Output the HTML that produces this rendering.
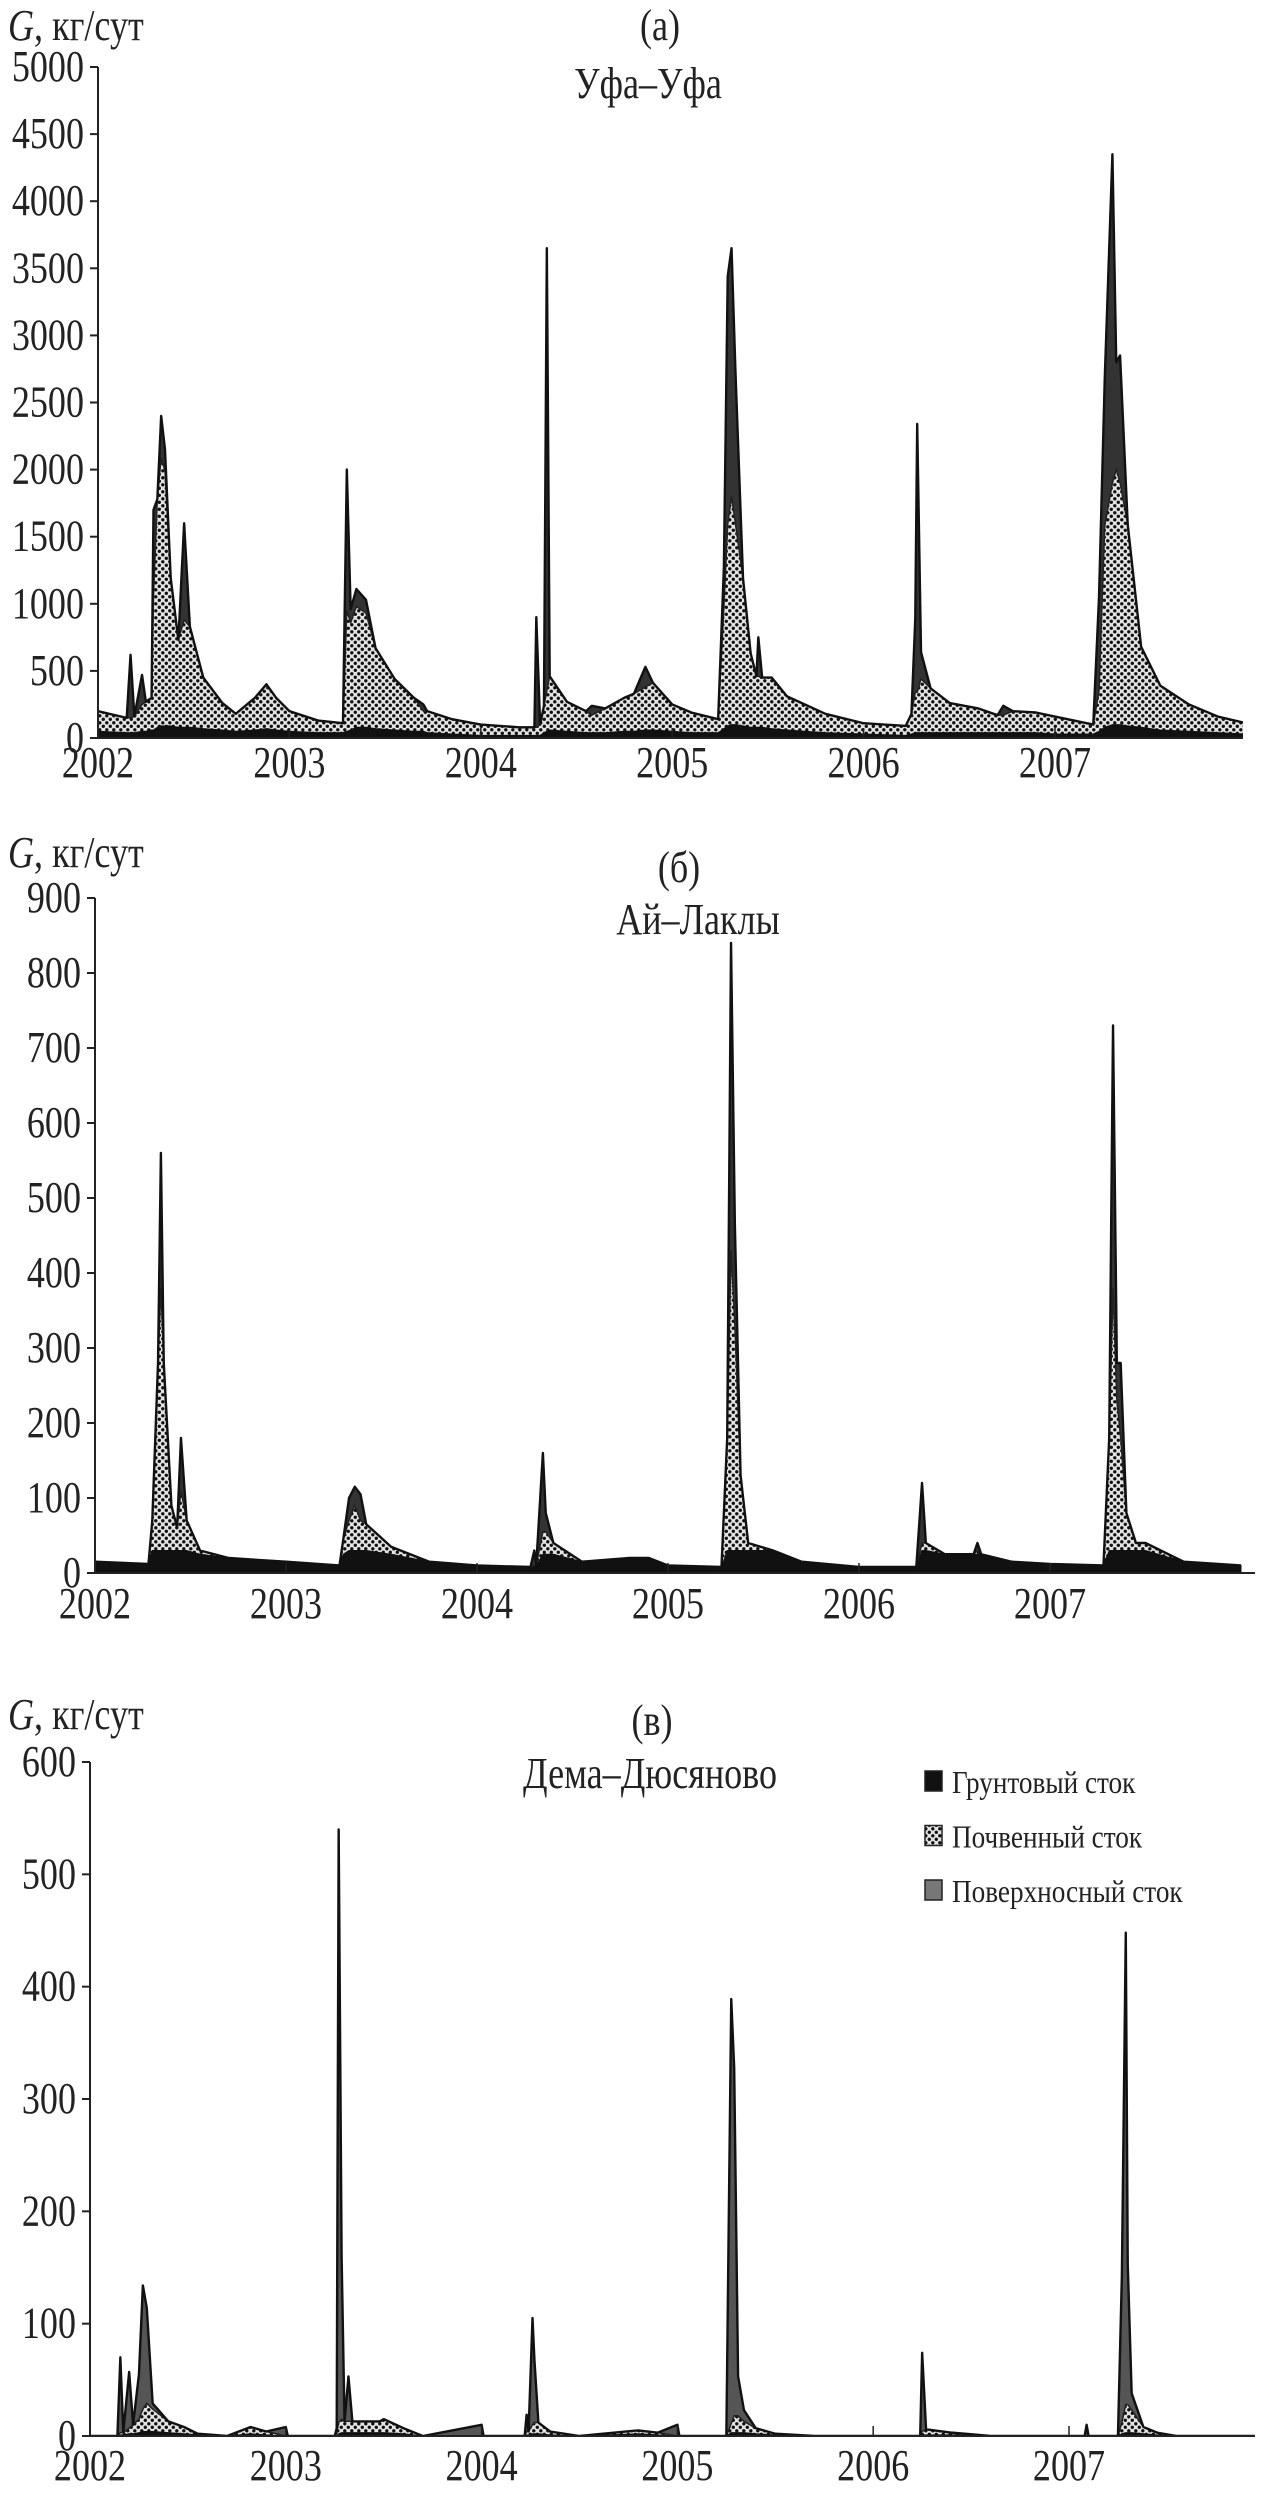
<!DOCTYPE html>
<html><head><meta charset="utf-8">
<style>
html,body{margin:0;padding:0;background:#fff;}
svg{display:block;font-family:"Liberation Serif","DejaVu Serif",serif;}
</style></head>
<body>
<svg id="chart" width="1262" height="2498" viewBox="0 0 1262 2498" xmlns="http://www.w3.org/2000/svg">
<defs>
<pattern id="dots" width="7" height="7" patternUnits="userSpaceOnUse">
<rect width="7" height="7" fill="#e4e4e4"/>
<circle cx="1.8" cy="1.8" r="1.7" fill="#111"/>
<circle cx="5.3" cy="5.3" r="1.7" fill="#111"/>
</pattern>
</defs>
</svg>
<script>
// ---- Panel (a) Уфа–Уфа ----
const aYears   = [2002.00,2002.15,2002.17,2002.19,2002.23,2002.25,2002.28,2002.29,2002.31,2002.33,2002.35,2002.38,2002.42,2002.45,2002.48,2002.55,2002.65,2002.72,2002.82,2002.88,2002.93,2003.00,2003.15,2003.28,2003.30,2003.32,2003.35,2003.40,2003.45,2003.55,2003.65,2003.70,2003.72,2003.85,2004.00,2004.20,2004.28,2004.29,2004.31,2004.33,2004.345,2004.36,2004.45,2004.55,2004.58,2004.65,2004.75,2004.80,2004.86,2004.90,2005.00,2005.10,2005.24,2005.27,2005.29,2005.31,2005.33,2005.37,2005.41,2005.44,2005.45,2005.47,2005.52,2005.60,2005.80,2006.00,2006.22,2006.25,2006.27,2006.28,2006.30,2006.35,2006.45,2006.60,2006.70,2006.73,2006.78,2006.90,2007.00,2007.20,2007.23,2007.26,2007.30,2007.32,2007.34,2007.38,2007.45,2007.55,2007.70,2007.85,2008.00];
const aGround  = [50,40,40,40,50,50,60,60,80,90,90,90,80,80,80,70,60,50,60,70,60,50,40,40,50,60,80,80,70,60,50,50,40,30,20,20,20,20,20,40,50,60,50,40,40,40,50,50,60,60,50,40,40,70,90,100,100,90,80,80,80,80,70,60,40,30,20,30,40,40,40,40,40,40,40,40,40,40,30,30,50,80,100,100,100,90,80,60,50,40,30];
const aSoil    = [150,110,110,120,200,220,240,1000,1700,2000,1900,1100,650,800,750,380,200,130,240,330,240,150,90,70,900,800,900,850,600,380,250,150,160,110,80,60,60,60,80,200,300,400,220,160,130,180,250,280,320,350,200,150,100,900,1500,1700,1500,1100,550,380,380,370,380,250,140,80,70,150,300,300,400,330,220,180,130,130,160,150,130,70,300,1500,1800,1900,1800,1500,600,330,200,120,80];
const aSurface = [0,0,470,0,220,0,0,640,0,310,160,0,0,720,0,0,0,0,0,0,0,0,0,0,1050,100,130,100,0,0,0,50,0,0,0,0,0,820,0,0,3300,0,0,0,70,0,0,0,150,0,0,0,0,300,1850,1850,1150,0,0,0,290,0,0,0,0,0,0,0,550,2000,200,0,0,0,0,70,0,0,0,0,700,1100,2450,800,950,0,0,0,0,0,0];
const aTicks   = [0,500,1000,1500,2000,2500,3000,3500,4000,4500,5000];

// ---- Panel (б) Ай–Лаклы ----
const bYears   = [2002.00,2002.28,2002.30,2002.33,2002.345,2002.36,2002.40,2002.43,2002.45,2002.48,2002.55,2002.70,2003.00,2003.28,2003.30,2003.33,2003.36,2003.39,2003.42,2003.55,2003.75,2004.00,2004.28,2004.30,2004.31,2004.345,2004.36,2004.40,2004.55,2004.80,2004.90,2005.00,2005.28,2005.31,2005.33,2005.35,2005.38,2005.42,2005.55,2005.70,2006.00,2006.30,2006.33,2006.35,2006.45,2006.60,2006.62,2006.64,2006.80,2007.00,2007.28,2007.31,2007.33,2007.35,2007.37,2007.40,2007.45,2007.50,2007.70,2008.00];
const bGround  = [15,12,30,30,30,30,30,30,30,30,25,20,15,10,25,30,30,30,30,25,15,10,8,10,10,25,25,25,15,20,20,10,8,30,30,30,30,30,30,15,8,8,30,30,25,25,25,25,15,12,10,30,30,30,30,30,30,30,15,10];
const bSoil    = [0,0,40,250,350,250,60,30,80,40,5,0,0,0,20,40,60,40,35,10,0,0,0,0,0,30,30,15,0,0,0,0,0,150,400,300,100,10,0,0,0,0,10,10,0,0,5,0,0,0,0,150,350,200,150,50,10,10,0,0];
const bSurface = [0,0,0,0,180,0,0,0,70,0,0,0,0,0,0,30,25,35,0,0,0,0,0,20,0,105,25,0,0,0,0,0,0,0,410,135,0,0,0,0,0,0,80,0,0,0,10,0,0,0,0,0,350,50,100,0,0,0,0,0];
const bTicks   = [0,100,200,300,400,500,600,700,800,900];

// ---- Panel (в) Дема–Дюсяново ----
const cYears   = [2002.00,2002.14,2002.155,2002.17,2002.20,2002.22,2002.25,2002.27,2002.29,2002.32,2002.40,2002.48,2002.55,2002.70,2002.82,2002.90,2003.00,2003.01,2003.25,2003.26,2003.27,2003.285,2003.30,2003.32,2003.34,2003.40,2003.48,2003.50,2003.60,2003.70,2004.00,2004.01,2004.22,2004.23,2004.24,2004.26,2004.27,2004.29,2004.35,2004.50,2004.80,2004.90,2005.00,2005.01,2005.25,2005.275,2005.29,2005.31,2005.34,2005.40,2005.50,2005.70,2006.00,2006.24,2006.25,2006.27,2006.40,2006.60,2007.00,2007.08,2007.09,2007.10,2007.25,2007.27,2007.29,2007.30,2007.32,2007.38,2007.45,2007.55,2008.00];
const cGround  = [0,0,1,1,2,2,3,4,4,4,3,2,1,0,2,1,0,0,0,0,2,3,3,3,3,3,3,3,2,0,0,0,0,1,1,2,2,2,1,0,2,1,0,0,0,3,3,3,3,2,1,0,0,0,1,1,1,0,0,0,0,0,0,2,3,3,3,2,1,0,0];
const cSoil    = [0,0,2,2,5,8,12,20,25,20,10,6,1,0,6,3,0,0,0,2,10,12,10,10,10,10,10,12,5,0,0,0,0,3,3,8,10,10,3,0,3,2,0,0,0,8,15,15,10,5,1,0,0,0,3,5,2,0,0,0,0,0,0,10,25,25,20,6,2,0,0];
const cSurface = [0,0,67,0,50,0,40,110,85,5,0,0,0,0,0,0,8,0,0,5,528,145,0,40,0,0,0,0,0,0,10,0,0,15,0,95,55,0,0,0,0,0,10,0,0,378,310,35,10,0,0,0,0,0,70,0,0,0,0,0,10,0,0,130,420,125,15,0,0,0,0];
const cTicks   = [0,100,200,300,400,500,600];

const yearLabels = [2002,2003,2004,2005,2006,2007];

const NS = "http://www.w3.org/2000/svg";
const svg = document.getElementById('chart');
function mk(tag, attrs, parent, text){
  const e = document.createElementNS(NS, tag);
  for (const k in attrs) e.setAttribute(k, attrs[k]);
  if (text !== undefined) e.textContent = text;
  (parent || svg).appendChild(e);
  return e;
}
// condensed text helper
function ctext(x, y, size, anchor, parent, str){
  return mk('text', {x:0, y:0, 'font-size':size, 'text-anchor':anchor, fill:'#222',
    transform:'translate(' + x + ',' + y + ') scale(0.82,1)'}, parent, str);
}

const panels = [
  {key:'a', years:aYears, ground:aGround, soil:aSoil, surface:aSurface, ticks:aTicks, max:5000,
   x0:98, x1:1243, y0:738, y1:67, yearSpan:191.4, yearBase:777, gBase:40, letter:'(а)', letterX:660, letterBase:40,
   name:'Уфа–Уфа', nameX:648, nameBase:98},
  {key:'b', years:bYears, ground:bGround, soil:bSoil, surface:bSurface, ticks:bTicks, max:900,
   x0:95, x1:1255, y0:1573, y1:898, yearSpan:191, yearBase:1618, gBase:867, letter:'(б)', letterX:679, letterBase:882,
   name:'Ай–Лаклы', nameX:698, nameBase:934},
  {key:'c', years:cYears, ground:cGround, soil:cSoil, surface:cSurface, ticks:cTicks, max:600,
   x0:90, x1:1255, y0:2436, y1:1762, yearSpan:195.8, yearBase:2480, gBase:1729, letter:'(в)', letterX:652, letterBase:1735,
   name:'Дема–Дюсяново', nameX:650, nameBase:1788}
];

panels.forEach(p => {
  const g = mk('g', {});
  
  
  const xs = t => p.x0 + (t - 2002) * p.yearSpan;
  const ys = v => p.y0 - v / p.max * (p.y0 - p.y1);
  const clipId = 'clip-' + p.key;
  const cp = mk('clipPath', {id: clipId}, g);
  mk('rect', {x:p.x0, y:p.y1 - 20, width:p.x1 - p.x0, height:p.y0 - p.y1 + 20}, cp);

  const n = p.years.length;
  const lower = [], mid = [], top = [];
  for (let i = 0; i < n; i++) {
    lower.push(p.ground[i]);
    mid.push(p.ground[i] + p.soil[i]);
    top.push(p.ground[i] + p.soil[i] + p.surface[i]);
  }
  function area(upper, base){
    let d = 'M' + xs(p.years[0]) + ',' + ys(upper[0]);
    for (let i = 1; i < n; i++) d += 'L' + xs(p.years[i]) + ',' + ys(upper[i]);
    for (let i = n - 1; i >= 0; i--) d += 'L' + xs(p.years[i]) + ',' + ys(base ? base[i] : 0);
    return d + 'Z';
  }
  function line(upper){
    let d = 'M' + xs(p.years[0]) + ',' + ys(upper[0]);
    for (let i = 1; i < n; i++) d += 'L' + xs(p.years[i]) + ',' + ys(upper[i]);
    return d;
  }
  const dg = mk('g', {'clip-path':'url(#' + clipId + ')'}, g);
  const surf = mk('path', {d: area(top, mid), fill:(p.key === 'c' ? '#555' : '#333'), stroke:'none'}, dg);
  
  
  const soil = mk('path', {d: area(mid, lower), fill:'url(#dots)', stroke:'none'}, dg);
  
  
  const grd = mk('path', {d: area(lower, null), fill:'#111', stroke:'#111', 'stroke-width':1}, dg);
  
  
  const midL = mk('path', {d: line(mid), fill:'none', stroke:'#222', 'stroke-width':1.5}, dg);
  
  
  const topL = mk('path', {d: line(top), fill:'none', stroke:'#111', 'stroke-width':2.4, 'stroke-linejoin':'round'}, dg);
  
  

  const ya = mk('line', {x1:p.x0, y1:p.y1, x2:p.x0, y2:p.y0, stroke:'#222', 'stroke-width':2}, g);
  
  
  const xa = mk('line', {x1:p.x0, y1:p.y0, x2:p.x1, y2:p.y0, stroke:'#222', 'stroke-width':2}, g);
  
  

  p.ticks.forEach(v => {
    const tk = mk('line', {x1:p.x0 - 8, y1:ys(v), x2:p.x0, y2:ys(v), stroke:'#222', 'stroke-width':2}, g);
    
    
    const tl = ctext(p.x0 - 14, ys(v) + 14, 44, 'end', g, String(v));
    
    
  });
  yearLabels.forEach(yr => {
    const x = xs(yr);
    const tk = mk('line', {x1:x, y1:p.y0 - 10, x2:x, y2:p.y0, stroke:'#222', 'stroke-width':1.5}, g);
    
    
    const tl = ctext(x, p.yearBase, 44, 'middle', g, String(yr));
    
    
  });
  const yt = mk('text', {x:0, y:0, 'font-size':44, fill:'#222', transform:'translate(8,' + p.gBase + ') scale(0.82,1)'}, g);
  
  
  mk('tspan', {'font-style':'italic'}, yt, 'G');
  mk('tspan', {}, yt, ', кг/сут');
  const lt = ctext(p.letterX, p.letterBase, 44, 'middle', g, p.letter);
  
  
  const nt = ctext(p.nameX, p.nameBase, 44, 'middle', g, p.name);
  
  
});

const legendLabels = ['Грунтовый сток','Почвенный сток','Поверхносный сток'];
const legendFills = ['#111','url(#dots)','#777'];
const lg = mk('g', {});


legendLabels.forEach((t, i) => {
  const base = 1793 + i * 54.5;
  const e = mk('g', {}, lg);
  
  
  mk('rect', {x:925, y:base - 22, width:17, height:20, fill:legendFills[i], stroke:'#222', 'stroke-width':1.5}, e);
  mk('text', {x:0, y:0, 'font-size':32, fill:'#222', transform:'translate(952,' + base + ') scale(0.85,1)'}, e, t);
});
</script>
</body></html>
